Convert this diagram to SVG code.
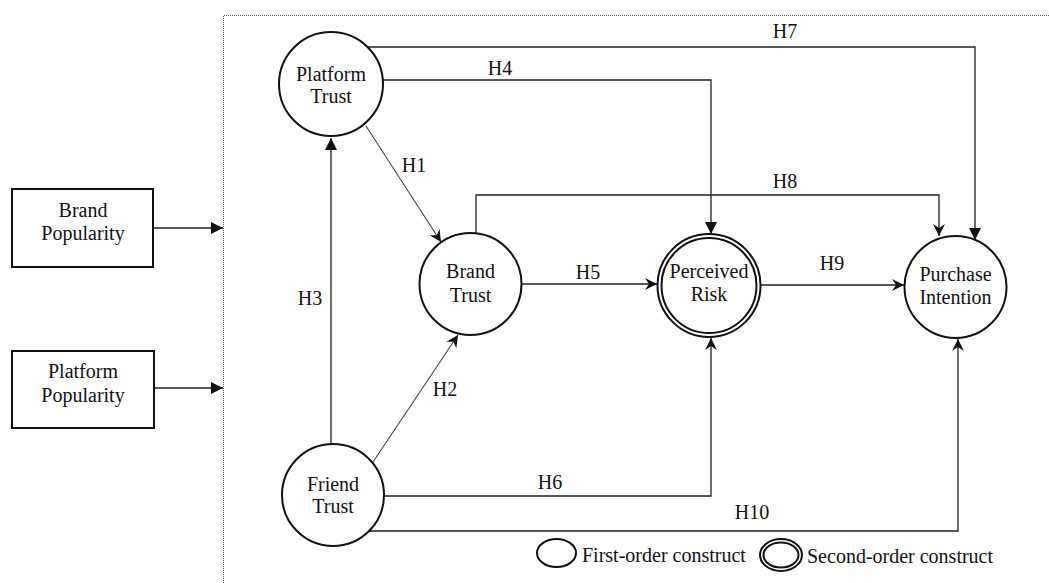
<svg xmlns="http://www.w3.org/2000/svg" width="1049" height="583" viewBox="0 0 1049 583" font-family="'Liberation Serif', 'DejaVu Serif', 'Times New Roman', Times, serif">
  <defs>
    <style>
      text { font-family: 'Liberation Serif', 'DejaVu Serif', 'Times New Roman', Times, serif; font-size: 20px; fill: #111; }
      .lbl { text-anchor: middle; }
      .node { fill: #fff; stroke: #111; stroke-width: 2; }
      .box { fill: #fff; stroke: #111; stroke-width: 2; }
      .link { fill: none; stroke: #222; stroke-width: 1.3; }
      .thin { fill: none; stroke: #444; stroke-width: 1.1; }
      .frame { fill: none; stroke: #666; stroke-width: 1; stroke-dasharray: 1 1; }
    </style>
    <marker id="solid" viewBox="0 0 12 12" refX="12" refY="6" markerWidth="12" markerHeight="12" markerUnits="userSpaceOnUse" orient="auto">
      <path d="M0,0 L12,6 L0,12 z" fill="#111"/>
    </marker>
    <marker id="stealth" viewBox="0 0 12 12" refX="12" refY="6" markerWidth="12" markerHeight="12" markerUnits="userSpaceOnUse" orient="auto">
      <path d="M0,0 L12,6 L0,12 L4,6 z" fill="#111"/>
    </marker>
  </defs>

  <rect width="1049" height="583" fill="#fff"/>

  <!-- dotted frame around the structural model -->
  <path class="frame" d="M223.5,583 V15.5 H1049"/>

  <!-- connectors -->
  <g id="connectors">
    <!-- popularity inputs -->
    <line class="link" x1="153" y1="228" x2="223" y2="228" marker-end="url(#solid)"/>
    <line class="link" x1="154" y1="388" x2="223" y2="388" marker-end="url(#solid)"/>
    <!-- H7 -->
    <path class="link" d="M367,47 H975 V240" marker-end="url(#solid)"/>
    <!-- H4 -->
    <path class="link" d="M382,80 H711 V234" marker-end="url(#solid)"/>
    <!-- H1 -->
    <line class="thin" x1="366" y1="126" x2="441" y2="242" marker-end="url(#stealth)"/>
    <!-- H8 -->
    <path class="link" d="M476,233 V195 H939 V236" marker-end="url(#stealth)"/>
    <!-- H3 -->
    <line class="link" x1="331" y1="444" x2="331" y2="138" marker-end="url(#solid)"/>
    <!-- H2 -->
    <line class="thin" x1="373" y1="462" x2="458" y2="335" marker-end="url(#stealth)"/>
    <!-- H5 -->
    <line class="link" x1="522" y1="284" x2="657" y2="284" marker-end="url(#stealth)"/>
    <!-- H9 -->
    <line class="link" x1="761" y1="285" x2="904" y2="285" marker-end="url(#stealth)"/>
    <!-- H6 -->
    <path class="link" d="M384,496 H711 V338" marker-end="url(#stealth)"/>
    <!-- H10 -->
    <path class="link" d="M369,531 H958 V339" marker-end="url(#stealth)"/>

    <text class="lbl" x="785" y="38">H7</text>
    <text class="lbl" x="500" y="75">H4</text>
    <text class="lbl" x="785" y="188">H8</text>
    <text class="lbl" x="414" y="172">H1</text>
    <text class="lbl" x="310" y="305">H3</text>
    <text class="lbl" x="588" y="279">H5</text>
    <text class="lbl" x="832" y="270">H9</text>
    <text class="lbl" x="445" y="396">H2</text>
    <text class="lbl" x="550" y="489">H6</text>
    <text class="lbl" x="752" y="519">H10</text>
  </g>

  <g id="brand-popularity">
    <rect class="box" x="12" y="189" width="141" height="78"/>
    <text class="lbl" x="83" y="217">Brand</text>
    <text class="lbl" x="83" y="240">Popularity</text>
  </g>

  <g id="platform-popularity">
    <rect class="box" x="12" y="351" width="142" height="77"/>
    <text class="lbl" x="83" y="378">Platform</text>
    <text class="lbl" x="83" y="402">Popularity</text>
  </g>

  <g id="platform-trust">
    <circle class="node" cx="331" cy="84" r="52"/>
    <text class="lbl" x="331" y="81">Platform</text>
    <text class="lbl" x="331" y="103">Trust</text>
  </g>

  <g id="brand-trust">
    <circle class="node" cx="470.5" cy="284" r="51"/>
    <text class="lbl" x="470.5" y="278">Brand</text>
    <text class="lbl" x="470.5" y="302">Trust</text>
  </g>

  <g id="perceived-risk">
    <circle class="node" cx="709" cy="285.5" r="51.5" stroke-width="1.5"/>
    <circle class="node" cx="709" cy="285.5" r="47.5" stroke-width="1.5"/>
    <text class="lbl" x="709" y="278">Perceived</text>
    <text class="lbl" x="709" y="301">Risk</text>
  </g>

  <g id="purchase-intention">
    <circle class="node" cx="955.5" cy="287" r="51"/>
    <text class="lbl" x="955.5" y="281">Purchase</text>
    <text class="lbl" x="955.5" y="304">Intention</text>
  </g>

  <g id="friend-trust">
    <circle class="node" cx="333" cy="495" r="51"/>
    <text class="lbl" x="333" y="491">Friend</text>
    <text class="lbl" x="333" y="513">Trust</text>
  </g>

  <!-- legend -->
  <g id="legend">
    <ellipse class="node" cx="556.5" cy="553" rx="19.5" ry="14"/>
    <text x="582" y="562">First-order construct</text>
    <ellipse class="node" cx="781" cy="555" rx="21" ry="16" stroke-width="1.4"/>
    <ellipse class="node" cx="781" cy="555" rx="17.5" ry="12.5" stroke-width="1.4"/>
    <text x="807" y="563">Second-order construct</text>
  </g>
</svg>
